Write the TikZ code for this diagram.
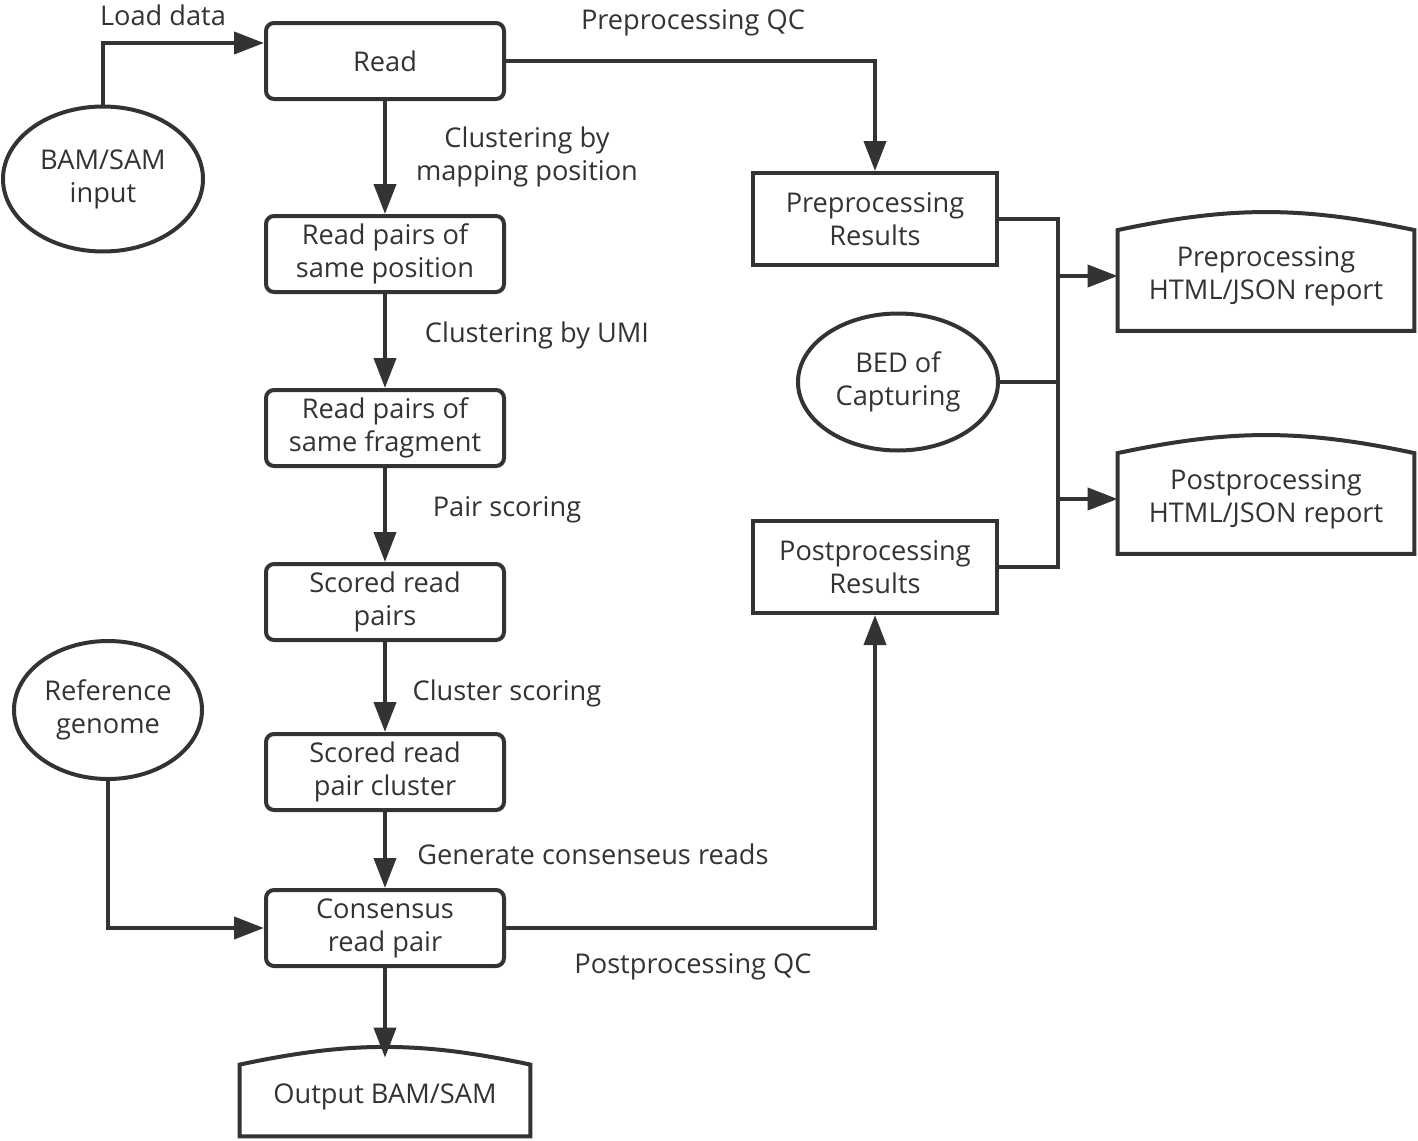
\documentclass[tikz,border=0pt]{standalone}
\usepackage{fontspec}
\setmainfont{Open Sans}
\usetikzlibrary{arrows.meta,shapes.geometric}
\definecolor{ink}{HTML}{333333}
\tikzset{
  line/.style={draw=ink,line width=2pt},
  arr/.style={line,-{Triangle[length=15pt,width=11pt]}},
  proc/.style={line,rounded corners=4pt,minimum width=119pt,minimum height=38pt,align=center,text=ink,inner sep=0pt},
  res/.style={line,minimum width=122pt,minimum height=46pt,align=center,text=ink,inner sep=0pt},
  data/.style={line,ellipse,align=center,text=ink,inner sep=0pt},
  report/.style={align=center,text=ink,inner sep=0pt},
  lab/.style={text=ink,align=center}
}
\begin{document}
\begin{tikzpicture}[x=0.5pt,y=-0.5pt,every node/.style={font=\fontsize{13.6}{16.5}\selectfont}]
  \useasboundingbox (0,0) rectangle (1418,1140);
  %colonna centrale
  \node[proc] (read) at (385,61) {Read};
  \node[proc] (rpos) at (385,254) {Read pairs of\\same position};
  \node[proc] (rfrag) at (385,428) {Read pairs of\\same fragment};
  \node[proc] (spairs) at (385,602) {Scored read\\pairs};
  \node[proc] (sclust) at (385,772) {Scored read\\pair cluster};
  \node[proc] (cons) at (385,928) {Consensus\\read pair};
  \node[report,minimum width=145pt,minimum height=39pt] (outbam) at (385,1097) {Output BAM/SAM};
  %ingressi
  \node[data,minimum width=100pt,minimum height=72.5pt] (bam) at (103,179) {BAM/SAM\\input};
  \node[data,minimum width=94pt,minimum height=69pt] (ref) at (108,710) {Reference\\genome};
  \node[data,minimum width=100pt,minimum height=68.5pt] (bed) at (898,382) {BED of\\Capturing};
  %risultati
  \node[res] (preres) at (875,219) {Preprocessing\\Results};
  \node[res] (postres) at (875,567) {Postprocessing\\Results};
  \node[report,minimum width=148pt,minimum height=54.5pt] (prerep) at (1266,276) {Preprocessing\\HTML/JSON report};
  \node[report,minimum width=148pt,minimum height=54.5pt] (postrep) at (1266,499) {Postprocessing\\HTML/JSON report};
  %forme report
  \foreach \n/\h in {outbam/3.5pt,prerep/4.5pt,postrep/4.5pt}
    \draw[line] (\n.south west) -- ([yshift=-\h]\n.north west) to[bend left=12] ([yshift=-\h]\n.north east) -- (\n.south east) -- cycle;
  %frecce
  \draw[arr] (bam.north) |- ([yshift=9pt]read.west);
  \draw[arr] (read.east) -| (preres.north);
  \draw[arr] (read) -- (rpos);
  \draw[arr] (rpos) -- (rfrag);
  \draw[arr] (rfrag) -- (spairs);
  \draw[arr] (spairs) -- (sclust);
  \draw[arr] (sclust) -- (cons);
  \draw[arr] (cons) -- (outbam.north);
  \draw[arr] (ref.south) |- (cons.west);
  \draw[arr] (cons.east) -| (postres.south);
  \coordinate (bt) at (1058,219);
  \coordinate (bb) at (1058,567);
  \draw[line] (preres.east) -- (bt) -- (bb) -- (postres.east);
  \draw[line] (bed.east) -- (bed.east -| bt);
  \draw[arr] (prerep.west -| bt) -- (prerep.west);
  \draw[arr] (postrep.west -| bt) -- (postrep.west);
  %etichette
  \node[lab] (lload) at (163,15) {Load data};
  \node[lab] (lpreqc) at (693,23) {Preprocessing QC};
  \node[lab] (lmap) at (527,157) {Clustering by\\mapping position};
  \node[lab] (lumi) at (537,335) {Clustering by UMI};
  \node[lab] (lpair) at (507,510) {Pair scoring};
  \node[lab] (lclust) at (507,693) {Cluster scoring};
  \node[lab] (lgen) at (593,854) {Generate consenseus reads};
  \node[lab] (lpostqc) at (693,967) {Postprocessing QC};
\end{tikzpicture}
\end{document}
